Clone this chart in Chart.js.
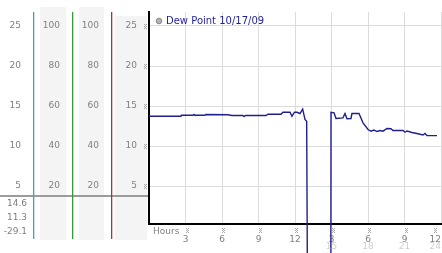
<!DOCTYPE html>
<html>
<head>
<meta charset="utf-8">
<script src="https://cdn.jsdelivr.net/npm/chart.js@4.4.0/dist/chart.umd.min.js"></script>
<style>
  html, body { margin: 0; padding: 0; background: #fff; overflow: hidden; }
</style>
</head>
<body>
<canvas id="chart" width="442" height="253"></canvas>
<script>
// hours since midnight, dew point in C
const hours = [0, 2.63, 2.67, 3.62, 3.70, 3.78, 4.60, 4.68, 6.49, 6.82,
  7.73, 7.81, 7.93, 9.62, 9.78, 10.85, 11.01, 11.59, 11.75, 11.96,
  12.16, 12.41, 12.63, 12.82, 12.96, 13.09, 14.93, 14.96, 15.21, 15.37,
  15.94, 16.11, 16.27, 16.60, 16.68, 17.26, 17.59, 18.00, 18.25, 18.49,
  18.74, 18.99, 19.23, 19.56, 19.89, 20.05, 20.88, 21.04, 21.21, 21.62,
  22.11, 22.52, 22.68, 22.85, 23.67];
const dewPoint = [13.72, 13.72, 13.85, 13.85, 13.94, 13.85, 13.85, 13.94, 13.9, 13.81,
  13.81, 13.69, 13.81, 13.81, 13.97, 13.97, 14.22, 14.22, 13.72, 14.22,
  14.22, 14.06, 14.6, 13.31, 13.1, -29.1, -29.1, 14.22, 14.15, 13.44,
  13.52, 14.06, 13.4, 13.44, 14.06, 14.06, 12.9, 12.06, 11.85, 12.0,
  11.81, 11.94, 11.85, 12.19, 12.15, 11.94, 11.94, 11.72, 11.88, 11.69,
  11.53, 11.38, 11.56, 11.3, 11.3];
const seriesLabel = 'Dew Point 10/17/09';
const tempTicks = [5, 10, 15, 20, 25];
const pctTicks = [20, 40, 60, 80, 100];
const hourTicks = [0, 3, 6, 9, 12, 15, 18, 21, 24];

Chart.defaults.font.family = 'DejaVu Sans';
Chart.defaults.font.size = 9;

const grey = '#808080';

function mark(ctx, cx, cy) {
  // the little dotted tick glyph
  ctx.fillStyle = '#a8a8a8';
  [[-1, -2], [1, -2], [0, -1], [-1, 0], [1, 0], [0, 1], [-1, 2], [1, 2]].forEach(([dx, dy]) => {
    ctx.fillRect(Math.round(cx + dx), Math.round(cy + dy), 1, 1);
  });
}

const decor = {
  id: 'decor',
  afterLayout(chart) {
    // legend sits inside the plot, top left
    chart.legend.top = chart.chartArea.top;
    chart.legend.left = chart.chartArea.left + 4;
  },
  beforeDraw(chart) {
    const { ctx, chartArea: a, scales: s } = chart;
    const bottom = chart.height - 13;
    ctx.save();
    ctx.fillStyle = '#f4f4f4';
    ctx.fillRect(s.y3.left + 7, a.top - 5, s.y3.width - 13, bottom - a.top + 5);
    ctx.fillRect(s.y2.left + 7, a.top - 5, s.y2.width - 14, bottom - a.top + 5);
    ctx.fillRect(s.y.left + 4, a.top + 4, s.y.width - 6, bottom - a.top - 4);
    ctx.restore();
  },
  afterDraw(chart) {
    const { ctx, chartArea: a, scales: s } = chart;
    ctx.save();

    // separator under the left tick columns
    const sepY = s.y.getPixelForValue(3.75);
    ctx.fillStyle = '#9c9c9c';
    ctx.fillRect(0, sepY - 1, a.left - 1, 2);

    // coloured column rules
    const rules = [[s.y4, '#3fa0cf'], [s.y3, '#3a9a3a'], [s.y2, '#b03030']];
    rules.forEach(([sc, col]) => {
      ctx.fillStyle = col;
      ctx.fillRect(Math.round(sc.right), a.top, 1.3, chart.height - 14 - a.top);
    });

    // max / current / min
    const stats = [Math.max(...dewPoint), dewPoint[dewPoint.length - 1], Math.min(...dewPoint)];
    ctx.font = '9px "DejaVu Sans"';
    ctx.fillStyle = grey;
    ctx.textAlign = 'right';
    ctx.textBaseline = 'middle';
    stats.forEach((v, i) => ctx.fillText(v.toFixed(1), s.y4.right - 6, sepY + 8 + i * 14));

    // tick glyphs
    tempTicks.forEach(v => mark(ctx, a.left - 4, s.y.getPixelForValue(v)));
    hourTicks.filter(h => h > 0).forEach((h, i, arr) => {
      const x = i === arr.length - 1 ? s.x.getPixelForValue(h) - 6 : s.x.getPixelForValue(h) + 1;
      mark(ctx, x, a.bottom + 6);
    });

    // axis name
    ctx.fillStyle = grey;
    ctx.textAlign = 'left';
    ctx.fillText('Hours', a.left + 4, a.bottom + 8);

    // 24h row
    ctx.fillStyle = '#cfcfcf';
    const pm = hourTicks.filter(h => h > 12);
    pm.forEach((h, i) => {
      ctx.textAlign = i === pm.length - 1 ? 'right' : 'center';
      ctx.fillText(String(h), s.x.getPixelForValue(h), a.bottom + 23);
    });
    ctx.restore();
  }
};

new Chart(document.getElementById('chart'), {
  type: 'line',
  data: {
    datasets: [{
      label: seriesLabel,
      data: hours.map((h, i) => ({ x: h, y: dewPoint[i] })),
      borderColor: '#1f1f8f',
      borderWidth: 1.4,
      pointRadius: 0,
      tension: 0,
      clip: false
    }]
  },
  options: {
    responsive: false,
    devicePixelRatio: 1,
    animation: false,
    layout: { padding: { top: 12, right: 1, bottom: 0, left: 0 } },
    scales: {
      x: {
        type: 'linear',
        min: 0,
        max: 24,
        afterBuildTicks: sc => { sc.ticks = hourTicks.map(v => ({ value: v })); },
        afterFit: sc => { sc.height = 29; sc.paddingLeft = 0; sc.paddingRight = 0; },
        ticks: {
          color: grey,
          padding: 10,
          maxRotation: 0,
          autoSkip: false,
          align: 'inner',
          callback: v => v === 0 ? '' : String(v % 12 === 0 ? 12 : v % 12)
        },
        grid: { color: '#dcdcdc', drawTicks: false },
        border: { color: '#000', width: 2 }
      },
      y: {
        position: 'left',
        weight: 0,
        min: 0.25,
        max: 26.75,
        afterBuildTicks: sc => { sc.ticks = tempTicks.map(v => ({ value: v })); },
        afterFit: sc => { sc.width = 38; sc.paddingTop = 0; sc.paddingBottom = 0; },
        ticks: { color: grey, padding: 12 },
        grid: { color: '#dcdcdc', drawTicks: false },
        border: { color: '#000', width: 2 }
      },
      y2: {
        position: 'left',
        weight: 1,
        min: 1,
        max: 107,
        afterBuildTicks: sc => { sc.ticks = pctTicks.map(v => ({ value: v })); },
        afterFit: sc => { sc.width = 39; sc.paddingTop = 0; sc.paddingBottom = 0; },
        ticks: { color: grey, padding: 12 },
        grid: { display: false, drawTicks: false },
        border: { display: false }
      },
      y3: {
        position: 'left',
        weight: 2,
        min: 1,
        max: 107,
        afterBuildTicks: sc => { sc.ticks = pctTicks.map(v => ({ value: v })); },
        afterFit: sc => { sc.width = 39; sc.paddingTop = 0; sc.paddingBottom = 0; },
        ticks: { color: grey, padding: 12 },
        grid: { display: false, drawTicks: false },
        border: { display: false }
      },
      y4: {
        position: 'left',
        weight: 3,
        min: 0.25,
        max: 26.75,
        afterBuildTicks: sc => { sc.ticks = tempTicks.map(v => ({ value: v })); },
        afterFit: sc => { sc.width = 33; sc.paddingTop = 0; sc.paddingBottom = 0; },
        ticks: { color: grey, padding: 12 },
        grid: { display: false, drawTicks: false },
        border: { display: false }
      }
    },
    plugins: {
      tooltip: { enabled: false },
      legend: {
        position: 'chartArea',
        align: 'start',
        labels: {
          usePointStyle: true,
          boxWidth: 4,
          boxHeight: 4,
          padding: 4,
          color: '#1f1f99',
          font: { size: 10 },
          generateLabels: chart => chart.data.datasets.map((ds, i) => ({
            text: ds.label,
            datasetIndex: i,
            pointStyle: 'circle',
            fillStyle: '#b4b4b4',
            strokeStyle: '#8a8a8a',
            lineWidth: 1,
            fontColor: '#1f1f99'
          }))
        }
      }
    }
  },
  plugins: [decor]
});
</script>
</body>
</html>
